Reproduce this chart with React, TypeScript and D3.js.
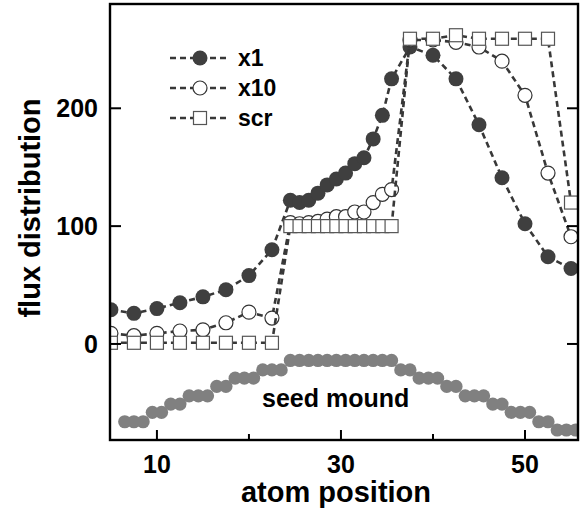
import React from 'react'
import * as d3 from 'd3'

const W = 581
const H = 512

// atom positions where flux was sampled
const positions = [5, 7.5, 10, 12.5, 15, 17.5, 20, 22.5, 24.5, 25.5, 26.5, 27.5, 28.5, 29.5, 30.5, 31.5, 32.5, 33.5, 34.5, 35.5, 37.5, 40, 42.5, 45, 47.5, 50, 52.5, 55]
const fluxX1 = [29, 26, 30, 35, 40, 46, 58, 80, 122, 120, 122, 128, 135, 140, 145, 153, 158, 174, 194, 225, 252, 245, 225, 186, 141, 102, 74, 64]
const fluxX10 = [9, 7, 9, 11, 12, 18, 27, 22, 103, 102, 103, 104, 106, 108, 108, 112, 112, 120, 127, 131, 258, 258, 256, 252, 240, 211, 145, 91]
const fluxScr = [1, 1, 1, 1, 1, 1, 1, 1, 100, 100, 100, 100, 100, 100, 100, 100, 100, 100, 100, 100, 259, 259, 262, 259, 259, 259, 259, 120]

// seed mound profile (drawn below zero)
const seedPositions = [6.5, 7.5, 8.5, 9.5, 10.5, 11.5, 12.5, 13.5, 14.5, 15.5, 16.5, 17.5, 18.5, 19.5, 20.5, 21.5, 22.5, 23.5, 24.5, 25.5, 26.5, 27.5, 28.5, 29.5, 30.5, 31.5, 32.5, 33.5, 34.5, 35.5, 36.5, 37.5, 38.5, 39.5, 40.5, 41.5, 42.5, 43.5, 44.5, 45.5, 46.5, 47.5, 48.5, 49.5, 50.5, 51.5, 52.5, 53.5, 54.5, 55.5]
const seedHeight = [-66, -66, -66, -58, -58, -51, -51, -44, -44, -44, -36, -36, -29, -29, -29, -22, -22, -22, -14, -14, -14, -14, -14, -14, -14, -14, -14, -14, -14, -14, -22, -22, -29, -29, -29, -36, -36, -44, -44, -44, -51, -51, -58, -58, -58, -66, -66, -73, -73, -73]

const xTicks = [10, 20, 30, 40, 50]
const xTickLabels = [10, 30, 50]
const yTicks = [0, 100, 200]
const seriesNames = ['x1', 'x10', 'scr']

const margin = { left: 110, right: 3, top: 4, bottom: 72 }
const font = '"Liberation Sans", Arial, Helvetica, sans-serif'
const lineColor = '#383838'

export default function App() {
  const x = d3.scaleLinear().domain([4.9, 55.76]).range([margin.left, W - margin.right])
  const y = d3.scaleLinear().domain([-81.5, 288.5]).range([H - margin.bottom, margin.top])

  const line = d3.line<[number, number]>().x(d => x(d[0])).y(d => y(d[1]))
  const pts = (vals: number[]) => positions.map((p, i) => [p, vals[i]] as [number, number])

  const [x0, x1] = x.range()
  const [yb, yt] = y.range()

  const dashed = { fill: 'none', stroke: lineColor, strokeWidth: 2.6, strokeDasharray: '6,4' }

  const filled = (cx: number, cy: number, k: any) => <circle key={k} cx={cx} cy={cy} r={7.5} fill="#3f3f3f" />
  const open = (cx: number, cy: number, k: any) => <circle key={k} cx={cx} cy={cy} r={7} fill="#fff" stroke="#333" strokeWidth={1.2} />
  const square = (cx: number, cy: number, k: any) => <rect key={k} x={cx - 6.5} y={cy - 6.5} width={13} height={13} fill="#fff" stroke="#555" strokeWidth={1.2} />
  const markers = [filled, open, square]
  const series = [fluxX1, fluxX10, fluxScr]

  return (
    <div style={{ position: 'absolute', left: 0, top: 0 }}>
      <svg width={W} height={H} style={{ display: 'block', background: '#fff' }}>
        <defs>
          <clipPath id="plot">
            <rect x={x0} y={yt} width={x1 - x0} height={yb - yt} />
          </clipPath>
        </defs>

        <g clipPath="url(#plot)">
          {/* seed mound */}
          {seedPositions.map((p, i) => (
            <circle key={'s' + i} cx={x(p)} cy={y(seedHeight[i])} r={6.6} fill="#808080" />
          ))}
          {series.map((vals, si) => (
            <g key={si}>
              <path d={line(pts(vals)) || ''} style={dashed} />
              {positions.map((p, i) => markers[si](x(p), y(vals[i]), i))}
            </g>
          ))}
        </g>

        <text x={262} y={407} fontFamily={font} fontWeight="bold" fontSize={25}>seed mound</text>

        {/* legend */}
        {seriesNames.map((n, i) => {
          const ly = 58 + i * 30
          return (
            <g key={n}>
              <line x1={170} x2={230} y1={ly} y2={ly} style={dashed} />
              {markers[i](200, ly, 'm')}
              <text x={238} y={ly + 8} fontFamily={font} fontWeight="bold" fontSize={23}>{n}</text>
            </g>
          )
        })}

        {/* frame */}
        <rect x={x0} y={yt} width={x1 - x0} height={yb - yt} fill="none" stroke="#000" strokeWidth={2.4} />

        {/* ticks */}
        {xTicks.map(t => {
          const len = xTickLabels.includes(t) ? 10 : 6
          return <line key={'xt' + t} x1={x(t)} x2={x(t)} y1={yb} y2={yb - len} stroke="#000" strokeWidth={2} />
        })}
        {xTickLabels.map(t => (
          <text key={'xl' + t} x={x(t)} y={yb + 33} textAnchor="middle" fontFamily={font} fontWeight="bold" fontSize={25}>{t}</text>
        ))}
        {yTicks.map(t => (
          <g key={'yt' + t}>
            <line x1={x0} x2={x0 + 11} y1={y(t)} y2={y(t)} stroke="#000" strokeWidth={2} />
            <line x1={x1} x2={x1 - 11} y1={y(t)} y2={y(t)} stroke="#000" strokeWidth={2} />
            <text x={x0 - 12} y={y(t)} dy="0.36em" textAnchor="end" fontFamily={font} fontWeight="bold" fontSize={25}>{t}</text>
          </g>
        ))}

        {/* axis titles */}
        <text x={336} y={502} textAnchor="middle" fontFamily={font} fontWeight="bold" fontSize={29}>atom position</text>
        <text transform="translate(40,208) rotate(-90)" textAnchor="middle" fontFamily={font} fontWeight="bold" fontSize={29}>flux distribution</text>
      </svg>
    </div>
  )
}
